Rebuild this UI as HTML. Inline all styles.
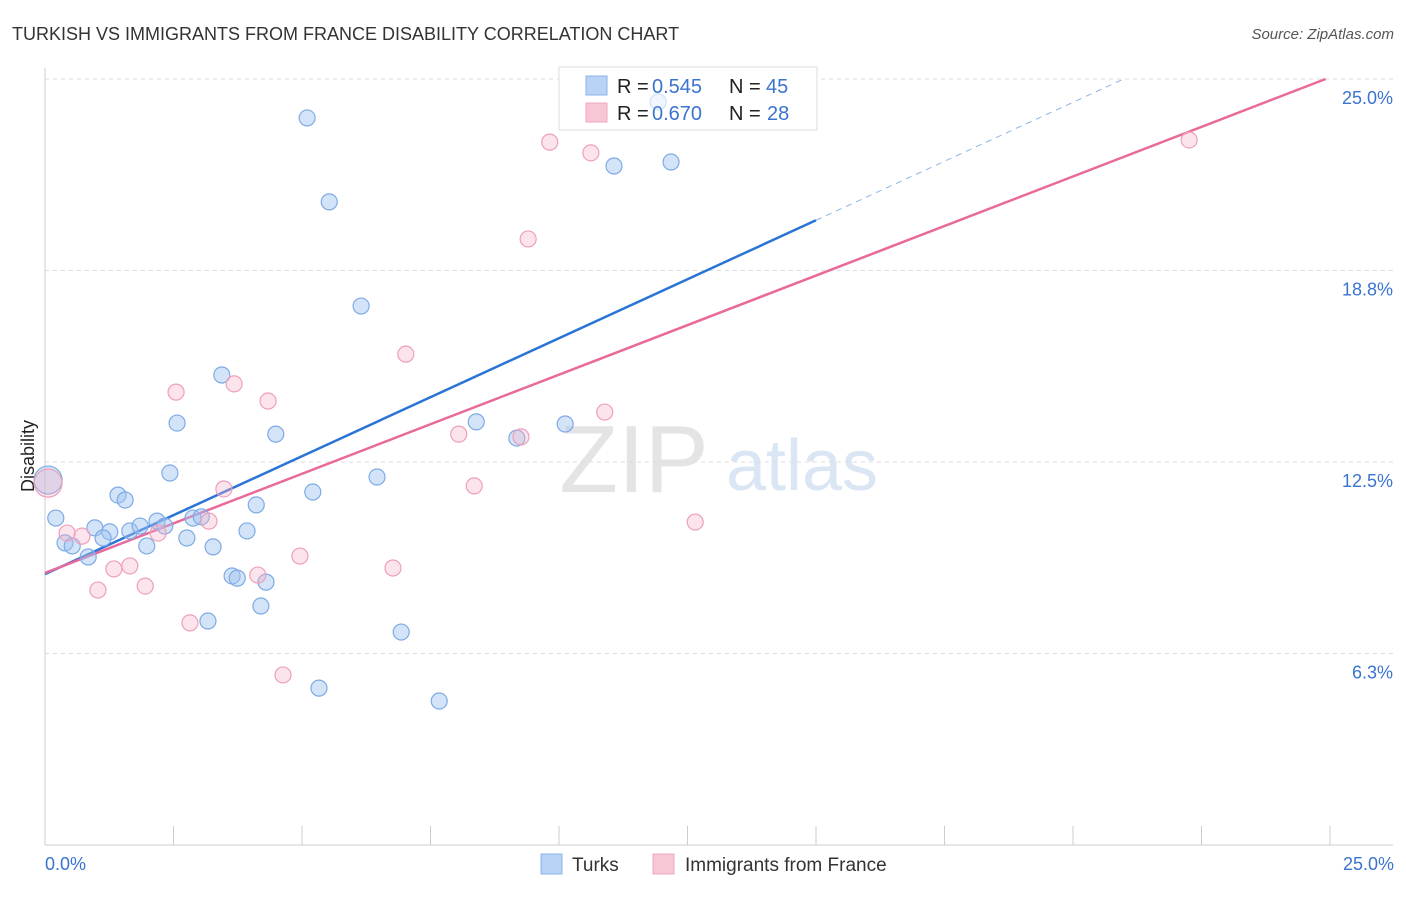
<!DOCTYPE html>
<html><head><meta charset="utf-8"><style>
body{margin:0;background:#fff;font-family:"Liberation Sans",sans-serif;}
svg text{font-family:"Liberation Sans",sans-serif;}
</style></head><body>
<svg id="chart" width="1406" height="892">
<text x="12" y="40" font-size="18" fill="#333">TURKISH VS IMMIGRANTS FROM FRANCE DISABILITY CORRELATION CHART</text>
<text x="1394" y="39" font-size="15" fill="#555" text-anchor="end" font-style="italic">Source: ZipAtlas.com</text>
<text x="34" y="456" font-size="18" fill="#222" text-anchor="middle" transform="rotate(-90 34 456)">Disability</text>
<g><text x="634" y="492" font-size="96" fill="#e4e4e4" text-anchor="middle" font-family="Liberation Serif">ZIP</text><text x="802" y="490" font-size="72" fill="#dbe6f4" text-anchor="middle">atlas</text></g>
<g id="grid"></g><g id="axes"></g><g id="lines"></g>
<g>
<rect x="559" y="67" width="258" height="63" fill="#fff" stroke="#ddd"/>
<rect x="586" y="76" width="21" height="19" fill="#b8d3f5" stroke="#8ab4e8"/>
<rect x="586" y="103" width="21" height="19" fill="#f9c6d6" stroke="#f0a6bf"/>
<text x="617" y="93" font-size="20" fill="#222">R =</text><text x="652" y="93" font-size="20" fill="#3a73d0">0.545</text>
<text x="729" y="93" font-size="20" fill="#222">N =</text><text x="766" y="93" font-size="20" fill="#3a73d0">45</text>
<text x="617" y="120" font-size="20" fill="#222">R =</text><text x="652" y="120" font-size="20" fill="#3a73d0">0.670</text>
<text x="729" y="120" font-size="20" fill="#222">N =</text><text x="767" y="120" font-size="20" fill="#3a73d0">28</text>
</g>
<g id="pts"></g>
<g>
<rect x="541" y="854" width="21" height="20" fill="#b8d3f5" stroke="#8ab4e8"/>
<text x="572" y="871" font-size="19" fill="#333">Turks</text>
<rect x="653" y="854" width="21" height="20" fill="#f9c6d6" stroke="#f0a6bf"/>
<text x="685" y="871" font-size="19" fill="#333">Immigrants from France</text>
</g>
<text x="45" y="870" font-size="18" fill="#3a73d0">0.0%</text>
<text x="1394" y="870" font-size="18" fill="#3a73d0" text-anchor="end">25.0%</text>
</svg>
<script>
const yTicks=[25,18.75,12.5,6.25];
const yTickLabels=["25.0%","18.8%","12.5%","6.3%"];
const turksX=[5.10,5.53,11.07,12.18,11.93,6.15,3.44,2.57,4.49,8.39,10.12,9.18,2.43,6.46,1.42,1.56,4.11,5.21,0.21,0.97,1.26,1.65,2.18,2.33,1.85,2.88,3.04,1.13,2.76,3.93,0.39,0.53,1.98,3.27,0.84,3.64,3.74,4.30,4.20,3.17,6.93,5.33,7.67,0.06];
const turksY=[23.73,20.99,22.16,22.29,24.25,17.59,15.34,13.77,13.41,13.81,13.74,13.28,12.14,12.01,11.42,11.26,11.10,11.52,10.67,10.35,10.22,10.25,10.57,10.41,10.41,10.67,10.71,10.02,10.02,10.25,9.86,9.76,9.76,9.73,9.40,8.78,8.71,8.58,7.80,7.31,6.95,5.12,4.70,11.91];
const franceX=[9.82,10.62,22.26,9.40,7.02,2.55,3.68,4.34,10.89,8.05,9.26,8.35,3.48,0.06,3.19,12.65,0.43,0.72,2.20,4.96,1.65,1.34,6.77,4.14,1.95,1.03,2.82,4.63];
const franceY=[22.94,22.59,23.01,19.78,16.02,14.78,15.05,14.49,14.13,13.41,13.32,11.72,11.62,11.81,10.57,10.54,10.18,10.08,10.18,9.43,9.11,9.01,9.04,8.81,8.45,8.32,7.25,5.55];
const turksLine=[8.84,0.77];
const franceLine=[8.88,0.647];
const X0=45,X1=1330,Y0=845,Y1=79;
const sx=v=>X0+v/25*(X1-X0), sy=v=>Y0-v/25*(Y0-Y1);
const NS="http://www.w3.org/2000/svg";
function mk(t,a,p){const e=document.createElementNS(NS,t);for(const k in a)e.setAttribute(k,a[k]);p.appendChild(e);return e;}
const grid=document.getElementById('grid'),axes=document.getElementById('axes');
yTicks.forEach((v,i)=>{
 const l=mk('line',{x1:X0,x2:1393,y1:sy(v),y2:sy(v),stroke:'#ddd','stroke-dasharray':'4,4'},grid);
 
 
 const t=mk('text',{x:1393,y:sy(v)+25,'font-size':18,fill:'#3a73d0','text-anchor':'end'},grid);
 t.textContent=yTickLabels[i];
 
 
});
mk('line',{x1:X0,x2:X0,y1:68,y2:Y0,stroke:'#ccc'},axes);
mk('line',{x1:X0,x2:1393,y1:Y0,y2:Y0,stroke:'#ccc'},axes);
for(let i=0;i<=10;i++){const t=mk('line',{x1:sx(i*2.5),x2:sx(i*2.5),y1:Y0,y2:826,stroke:'#ccc'},axes);
 
 }
const lines=document.getElementById('lines');
const bEnd=15, bDash=(25-turksLine[0])/turksLine[1];
const bl=mk('line',{x1:sx(0),y1:sy(turksLine[0]),x2:sx(bEnd),y2:sy(turksLine[0]+turksLine[1]*bEnd),stroke:'#2a74d6','stroke-width':2.5},lines);


const bd=mk('line',{x1:sx(bEnd),y1:sy(turksLine[0]+turksLine[1]*bEnd),x2:sx(bDash),y2:sy(25),stroke:'#8ab4e8','stroke-width':1,'stroke-dasharray':'6,5'},lines);


const pEnd=(25-franceLine[0])/franceLine[1];
const pl=mk('line',{x1:sx(0),y1:sy(franceLine[0]),x2:sx(pEnd),y2:sy(25),stroke:'#e8699a','stroke-width':2.5},lines);


const pts=document.getElementById('pts');
function draw(xs,ys,fill,stroke,name,op){xs.forEach((x,i)=>{const big=x<0.1;
 const c=mk('circle',{cx:sx(x),cy:sy(ys[i]),r:big?14:8,fill:fill,stroke:stroke,'stroke-width':1.2},pts);
 if(sy(ys[i])<130&&sx(x)>559&&sx(x)<817)c.setAttribute('opacity','0.35');
 
 });}
draw(turksX,turksY,'rgba(160,196,240,0.45)','#7eaae6','turks-point');
draw(franceX,franceY,'rgba(246,178,200,0.35)','#ee9fba','france-point');
</script>
</body></html>
